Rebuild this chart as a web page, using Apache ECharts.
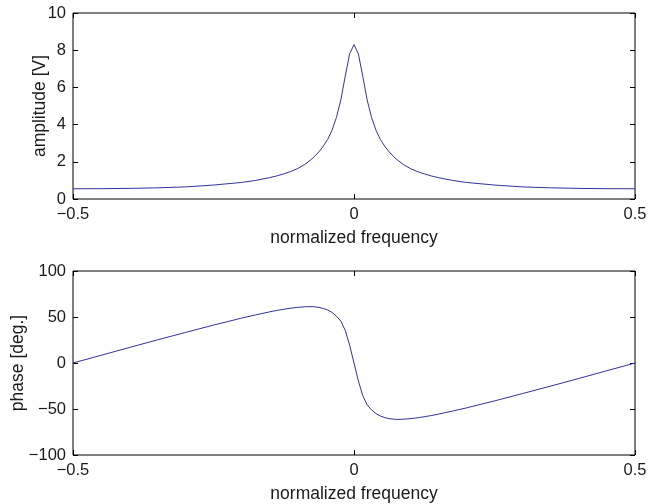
<!DOCTYPE html>
<html>
<head>
<meta charset="utf-8">
<script src="https://cdn.jsdelivr.net/npm/echarts@6/dist/echarts.min.js"></script>
<style>html,body{margin:0;padding:0;background:#fff;}#c{width:650px;height:504px;}</style>
</head>
<body>
<div id="c"></div>
<script>
const freq = [-0.5,-0.45,-0.4,-0.35,-0.3,-0.25,-0.2,-0.175,-0.15,-0.1375,-0.125,-0.1125,-0.1,-0.0875,-0.075,-0.0625,-0.0547,-0.0469,-0.0391,-0.0313,-0.0234,-0.0156,-0.0078,0,0.0078,0.0156,0.0234,0.0313,0.0391,0.0469,0.0547,0.0625,0.075,0.0875,0.1,0.1125,0.125,0.1375,0.15,0.175,0.2,0.25,0.3,0.35,0.4,0.45,0.5];
const amplitude = [0.55,0.555,0.57,0.6,0.65,0.75,0.89,1.0,1.15,1.24,1.35,1.48,1.64,1.86,2.15,2.53,2.84,3.2,3.7,4.38,5.33,6.6,7.8,8.3,7.8,6.6,5.33,4.38,3.7,3.2,2.84,2.53,2.15,1.86,1.64,1.48,1.35,1.24,1.15,1.0,0.89,0.75,0.65,0.6,0.57,0.555,0.55];
const phase = [0,8.4,16.8,25.1,33.2,41.2,48.8,52.3,55.6,57.1,58.4,59.6,60.5,61.1,61.3,60.5,59.3,57.6,55,51,45.5,35.5,19.5,0,-19.5,-35.5,-45.5,-51,-55,-57.6,-59.3,-60.5,-61.3,-61.1,-60.5,-59.6,-58.4,-57.1,-55.6,-52.3,-48.8,-41.2,-33.2,-25.1,-16.8,-8.4,0];
const xTicks = [-0.5, 0, 0.5];
const ampTicks = [0, 2, 4, 6, 8, 10];
const phaseTicks = [-100, -50, 0, 50, 100];

const FONT = 'Liberation Sans, Arial, Helvetica, sans-serif';
const TXT = '#1a1a1a';
const fmt = v => String(v).replace('-', '\u2212');

function mainX(grid, name) {
  return {
    type: 'value', gridIndex: grid, position: 'bottom',
    min: xTicks[0], max: xTicks[xTicks.length - 1], interval: xTicks[1] - xTicks[0],
    name: name, nameLocation: 'middle', nameGap: 30, nameMoveOverlap: false,
    nameTextStyle: { fontFamily: FONT, fontSize: 17.5, color: TXT },
    axisLine: { show: false, onZero: false },
    axisTick: { show: true, inside: true, length: 5, lineStyle: { color: '#000' } },
    axisLabel: { margin: 7, fontFamily: FONT, fontSize: 16.5, color: TXT, formatter: fmt },
    splitLine: { show: false }
  };
}
function mirrorX(grid) {
  return {
    type: 'value', gridIndex: grid, position: 'top',
    min: xTicks[0], max: xTicks[xTicks.length - 1], interval: xTicks[1] - xTicks[0],
    axisLine: { show: false, onZero: false },
    axisTick: { show: true, inside: true, length: 5, lineStyle: { color: '#000' } },
    axisLabel: { show: false }, splitLine: { show: false }
  };
}
function mainY(grid, ticks, name, gap) {
  return {
    type: 'value', gridIndex: grid, position: 'left',
    min: ticks[0], max: ticks[ticks.length - 1], interval: ticks[1] - ticks[0],
    name: name, nameLocation: 'middle', nameGap: gap, nameMoveOverlap: false,
    nameTextStyle: { fontFamily: FONT, fontSize: 17.5, color: TXT },
    axisLine: { show: false, onZero: false },
    axisTick: { show: true, inside: true, length: 5, lineStyle: { color: '#000' } },
    axisLabel: { margin: 7, fontFamily: FONT, fontSize: 16.5, color: TXT, formatter: fmt },
    splitLine: { show: false }
  };
}
function mirrorY(grid, ticks) {
  return {
    type: 'value', gridIndex: grid, position: 'right',
    min: ticks[0], max: ticks[ticks.length - 1], interval: ticks[1] - ticks[0],
    axisLine: { show: false, onZero: false },
    axisTick: { show: true, inside: true, length: 5, lineStyle: { color: '#000' } },
    axisLabel: { show: false }, splitLine: { show: false }
  };
}

const chart = echarts.init(document.getElementById('c'), null, { renderer: 'canvas' });
chart.setOption({
  animation: false,
  backgroundColor: '#fff',
  grid: [
    { left: 73, top: 13, width: 562, height: 186, show: true, borderColor: '#000', borderWidth: 1, backgroundColor: 'transparent' },
    { left: 73, top: 271, width: 562, height: 186, show: true, borderColor: '#000', borderWidth: 1, backgroundColor: 'transparent' }
  ],
  xAxis: [mainX(0, 'normalized frequency'), mirrorX(0), mainX(1, 'normalized frequency'), mirrorX(1)],
  yAxis: [mainY(0, ampTicks, 'amplitude [V]', 24), mirrorY(0, ampTicks), mainY(1, phaseTicks, 'phase [deg.]', 46), mirrorY(1, phaseTicks)],
  series: [
    {
      type: 'line', xAxisIndex: 0, yAxisIndex: 0, showSymbol: false, smooth: false,
      data: freq.map((f, i) => [f, amplitude[i]]),
      lineStyle: { color: '#33339c', width: 1 }
    },
    {
      type: 'line', xAxisIndex: 2, yAxisIndex: 2, showSymbol: false, smooth: false,
      data: freq.map((f, i) => [f, phase[i]]),
      lineStyle: { color: '#33339c', width: 1 }
    }
  ]
});
</script>
</body>
</html>
